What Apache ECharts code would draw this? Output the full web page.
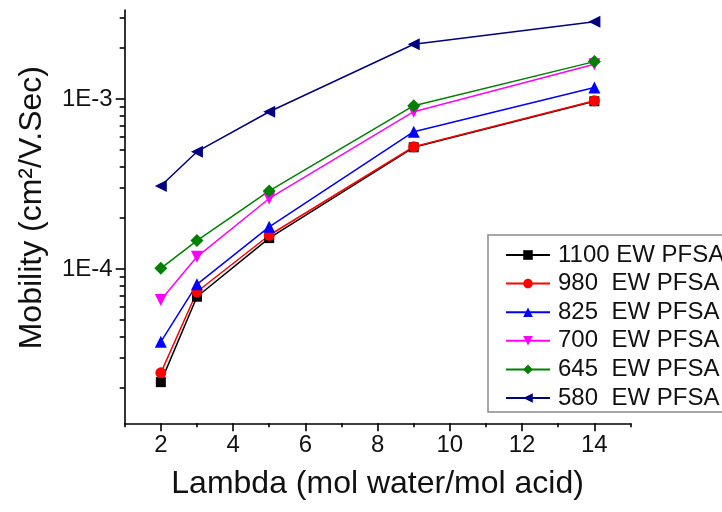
<!DOCTYPE html>
<html>
<head>
<meta charset="utf-8">
<script src="https://cdn.jsdelivr.net/npm/echarts@6/dist/echarts.min.js"></script>
<style>
  html, body { margin: 0; padding: 0; background: #ffffff; }
  #chart { width: 722px; height: 512px; }
</style>
</head>
<body>
<div id="chart"></div>
<script>
// Water content (lambda) at which mobility was evaluated
const lambda = [2, 3, 5, 9, 14];

// Proton mobility (cm^2/V.Sec) for each equivalent weight
const ew1100 = [2.16e-5, 6.87e-5, 1.52e-4, 5.20e-4, 9.70e-4];
const ew980  = [2.45e-5, 7.35e-5, 1.58e-4, 5.24e-4, 9.77e-4];
const ew825  = [3.73e-5, 8.13e-5, 1.77e-4, 6.42e-4, 1.17e-3];
const ew700  = [6.57e-5, 1.18e-4, 2.60e-4, 8.42e-4, 1.60e-3];
const ew645  = [1.01e-4, 1.47e-4, 2.88e-4, 9.14e-4, 1.66e-3];
const ew580  = [3.08e-4, 4.90e-4, 8.42e-4, 2.10e-3, 2.85e-3];

const seriesNames = ['1100 EW PFSA', '980  EW PFSA', '825  EW PFSA',
                     '700  EW PFSA', '645  EW PFSA', '580  EW PFSA'];

// Axis tick positions and labels
const xMajorTicks = [2, 4, 6, 8, 10, 12, 14];
const xMinorTicks = [1, 3, 5, 7, 9, 11, 13, 15];
const yMajorTicks = [1e-4, 1e-3];
const yMajorLabels = ['1E-4', '1E-3'];
const yMinorTicks = [2e-5, 3e-5, 4e-5, 5e-5, 6e-5, 7e-5, 8e-5, 9e-5,
                     2e-4, 3e-4, 4e-4, 5e-4, 6e-4, 7e-4, 8e-4, 9e-4,
                     2e-3, 3e-3];

const xMin = 1, xMax = 15;
const yMin = 1.237e-5, yMax = 3.34e-3;

const FONT = '"Liberation Sans", Arial, Helvetica, sans-serif';

const styles = [
  { color: '#000000', symbol: 'rect',     size: 10, rotate: 0 },
  { color: '#ff0000', symbol: 'circle',   size: 11, rotate: 0 },
  { color: '#0000ff', symbol: 'triangle', size: 12, rotate: 0 },
  { color: '#ff00ff', symbol: 'triangle', size: 12, rotate: 180 },
  { color: '#008000', symbol: 'diamond',  size: 13, rotate: 0 },
  { color: '#000080', symbol: 'triangle', size: 12, rotate: 90 }
];
const values = [ew1100, ew980, ew825, ew700, ew645, ew580];

const series = values.map((vals, i) => ({
  name: seriesNames[i],
  type: 'line',
  xAxisIndex: 0,
  yAxisIndex: 0,
  data: lambda.map((x, j) => [x, vals[j]]),
  symbol: styles[i].symbol,
  symbolSize: styles[i].size,
  symbolRotate: styles[i].rotate,
  showAllSymbol: true,
  lineStyle: { color: styles[i].color, width: 1.5 },
  itemStyle: { color: styles[i].color, borderWidth: 0 },
  emphasis: { disabled: true },
  animation: false
}));

const axisLineStyle = { show: true, lineStyle: { color: '#000', width: 1.6 } };

const chart = echarts.init(document.getElementById('chart'), null, { renderer: 'canvas' });
chart.setOption({
  backgroundColor: '#ffffff',
  animation: false,
  grid: {
    left: 124.7, right: 91.5, top: 10, bottom: 88.7,
    containLabel: false,
    outerBoundsMode: 'none'
  },
  legend: {
    orient: 'vertical',
    left: 488,
    top: 235,
    padding: [8, 30, 2, 17],
    itemWidth: 44,
    itemHeight: 12,
    itemGap: 4.6,
    backgroundColor: '#ffffff',
    borderColor: '#8a8a8a',
    borderWidth: 1.5,
    borderRadius: 0,
    selectedMode: false,
    data: seriesNames,
    textStyle: {
      fontFamily: FONT, fontSize: 24, color: '#111',
      padding: [0, 0, 0, 3]
    }
  },
  xAxis: [
    {
      type: 'value', min: xMin, max: xMax,
      position: 'bottom',
      name: 'Lambda (mol water/mol acid)',
      nameLocation: 'middle',
      nameGap: 45,
      nameTextStyle: { fontFamily: FONT, fontSize: 32, color: '#111' },
      axisLine: axisLineStyle,
      axisTick: {
        show: true, inside: false, length: 8,
        customValues: xMajorTicks,
        lineStyle: { color: '#000', width: 1.6 }
      },
      axisLabel: {
        show: true, margin: 10,
        customValues: xMajorTicks,
        fontFamily: FONT, fontSize: 24, color: '#111'
      },
      splitLine: { show: false }
    },
    {
      type: 'value', min: xMin, max: xMax,
      position: 'bottom',
      axisLine: { show: false },
      axisTick: {
        show: true, inside: false, length: 4,
        customValues: xMinorTicks,
        lineStyle: { color: '#000', width: 1.6 }
      },
      axisLabel: { show: false },
      splitLine: { show: false }
    }
  ],
  yAxis: [
    {
      type: 'log', logBase: 10, min: yMin, max: yMax,
      position: 'left',
      name: 'Mobility (cm²/V.Sec)',
      nameLocation: 'middle',
      nameGap: 77,
      nameTextStyle: {
        fontFamily: FONT, fontSize: 32, color: '#111',
        padding: [0, 0, 0, 18]
      },
      axisLine: axisLineStyle,
      axisTick: {
        show: true, inside: false, length: 9,
        customValues: yMajorTicks,
        lineStyle: { color: '#000', width: 1.6 }
      },
      axisLabel: {
        show: true, margin: 12,
        customValues: yMajorTicks,
        formatter: (v) => {
          const k = yMajorTicks.findIndex(t => Math.abs(t - v) / t < 1e-6);
          return k >= 0 ? yMajorLabels[k] : '';
        },
        fontFamily: FONT, fontSize: 24, color: '#111'
      },
      splitLine: { show: false },
      minorTick: { show: false }
    },
    {
      type: 'log', logBase: 10, min: yMin, max: yMax,
      position: 'left',
      axisLine: { show: false },
      axisTick: {
        show: true, inside: false, length: 5,
        customValues: yMinorTicks,
        lineStyle: { color: '#000', width: 1.6 }
      },
      axisLabel: { show: false },
      splitLine: { show: false }
    }
  ],
  series: series
});
</script>
</body>
</html>
